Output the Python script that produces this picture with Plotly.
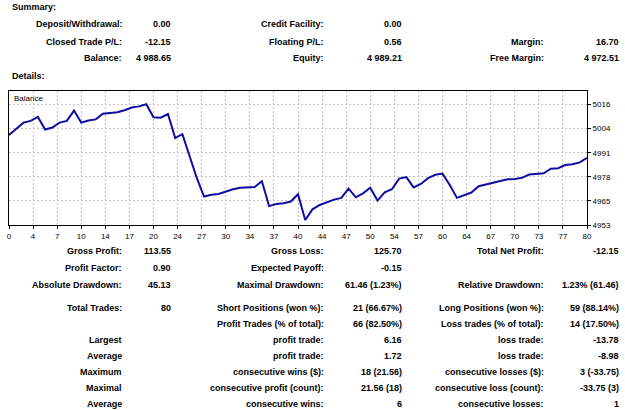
import plotly.graph_objects as go

# ---------------- data ----------------
balance = [4999.8, 5003.0, 5006.3, 5007.2, 5009.3, 5002.7, 5003.7, 5006.3, 5007.2, 5012.6,
           5006.3, 5007.4, 5008.0, 5011.0, 5011.2, 5011.7, 5012.8, 5014.2, 5014.8, 5015.9,
           5009.1, 5008.9, 5010.8, 4998.2, 5000.3, 4988.7, 4977.2, 4967.6, 4968.5, 4968.9,
           4970.2, 4971.4, 4972.2, 4972.3, 4972.6, 4975.6, 4962.6, 4963.7, 4964.1, 4965.0,
           4968.8, 4955.3, 4960.9, 4963.2, 4964.6, 4966.0, 4966.9, 4971.8, 4967.2, 4969.3,
           4972.2, 4965.5, 4969.8, 4971.4, 4977.0, 4977.8, 4972.4, 4974.2, 4977.2, 4979.0,
           4979.6, 4973.7, 4966.9, 4968.1, 4969.7, 4973.0, 4974.0, 4974.8, 4975.8, 4976.6,
           4976.8, 4977.4, 4979.1, 4979.6, 4979.8, 4982.2, 4982.4, 4984.1, 4984.5, 4985.5,
           4987.9]
trades = list(range(len(balance)))

x_tick_labels = ["0", "4", "7", "10", "14", "17", "20", "24", "27", "30", "34", "37", "40",
                 "44", "47", "50", "54", "57", "60", "64", "67", "70", "73", "77", "80"]
y_tick_labels = ["4953", "4965", "4978", "4991", "5004", "5016"]
y_bottom = 4952.7
y_step = 12.62
y_span = 70.16

summary_rows = [
    ["Deposit/Withdrawal:", "0.00", "Credit Facility:", "0.00", "", ""],
    ["Closed Trade P/L:", "-12.15", "Floating P/L:", "0.56", "Margin:", "16.70"],
    ["Balance:", "4 988.65", "Equity:", "4 989.21", "Free Margin:", "4 972.51"],
]
details_rows = [
    ["Gross Profit:", "113.55", "Gross Loss:", "125.70", "Total Net Profit:", "-12.15"],
    ["Profit Factor:", "0.90", "Expected Payoff:", "-0.15", "", ""],
    ["Absolute Drawdown:", "45.13", "Maximal Drawdown:", "61.46 (1.23%)", "Relative Drawdown:", "1.23% (61.46)"],
    ["Total Trades:", "80", "Short Positions (won %):", "21 (66.67%)", "Long Positions (won %):", "59 (88.14%)"],
    ["", "", "Profit Trades (% of total):", "66 (82.50%)", "Loss trades (% of total):", "14 (17.50%)"],
    ["Largest", "", "profit trade:", "6.16", "loss trade:", "-13.78"],
    ["Average", "", "profit trade:", "1.72", "loss trade:", "-8.98"],
    ["Maximum", "", "consecutive wins ($):", "18 (21.56)", "consecutive losses ($):", "3 (-33.75)"],
    ["Maximal", "", "consecutive profit (count):", "21.56 (18)", "consecutive loss (count):", "-33.75 (3)"],
    ["Average", "", "consecutive wins:", "6", "consecutive losses:", "1"],
]

# ---------------- layout geometry (pixels) ----------------
W, H = 625, 410
L, R, T, B = 7, 587, 91, 225
col_right = [122, 172, 325, 403, 546, 621]
summary_y = [24, 41.5, 58.5]
details_y = [251, 268, 285, 308, 324, 340, 356, 372, 388, 404]
FONT = "Liberation Sans"
FS = 9


def px(x):
    return (x - L) / (R - L)


def py(y):
    return (B - y) / (B - T)


fig = go.Figure()
fig.add_trace(go.Scatter(x=trades, y=balance, mode="lines",
                         line=dict(color="#0e0ea0", width=2), hoverinfo="skip"))

annotations = []


def add_text(x, y, text, anchor="right", bold=True, size=FS):
    annotations.append(dict(
        x=px(x), y=py(y), xref="paper", yref="paper", text=("<b>%s</b>" % text) if bold else text,
        showarrow=False, xanchor=anchor, yanchor="middle",
        font=dict(family=FONT, size=size, color="black")))


add_text(8, 7, "Summary:", anchor="left")
add_text(8, 76, "Details:", anchor="left")
for row, y in zip(summary_rows, summary_y):
    for txt, x in zip(row, col_right):
        if txt:
            add_text(x, y, txt)
for row, y in zip(details_rows, details_y):
    for txt, x in zip(row, col_right):
        if txt:
            add_text(x, y, txt)
add_text(10, 98, "Balance", anchor="left", bold=False, size=8)

n_int = len(x_tick_labels) - 1
x_tick_vals = [trades[-1] * k / n_int for k in range(len(x_tick_labels))]
y_tick_vals = [y_bottom + k * y_step for k in range(len(y_tick_labels))]

axis_common = dict(showgrid=True, gridcolor="#c4c4c4", griddash="2px,2px", gridwidth=1,
                   showline=True, linecolor="black", linewidth=1, mirror=True,
                   ticks="outside", ticklen=3, tickcolor="black",
                   tickfont=dict(family=FONT, size=8, color="black"), zeroline=False,
                   fixedrange=True)

fig.update_layout(
    width=W, height=H,
    margin=dict(l=L, r=W - R, t=T, b=H - B, pad=0),
    paper_bgcolor="white", plot_bgcolor="white",
    showlegend=False,
    annotations=annotations,
    xaxis=dict(range=[0, trades[-1]], tickvals=x_tick_vals, ticktext=x_tick_labels, **axis_common),
    yaxis=dict(range=[y_bottom, y_bottom + y_span], tickvals=y_tick_vals, ticktext=y_tick_labels,
               side="right", **axis_common),
)

fig.write_html("out.html")
